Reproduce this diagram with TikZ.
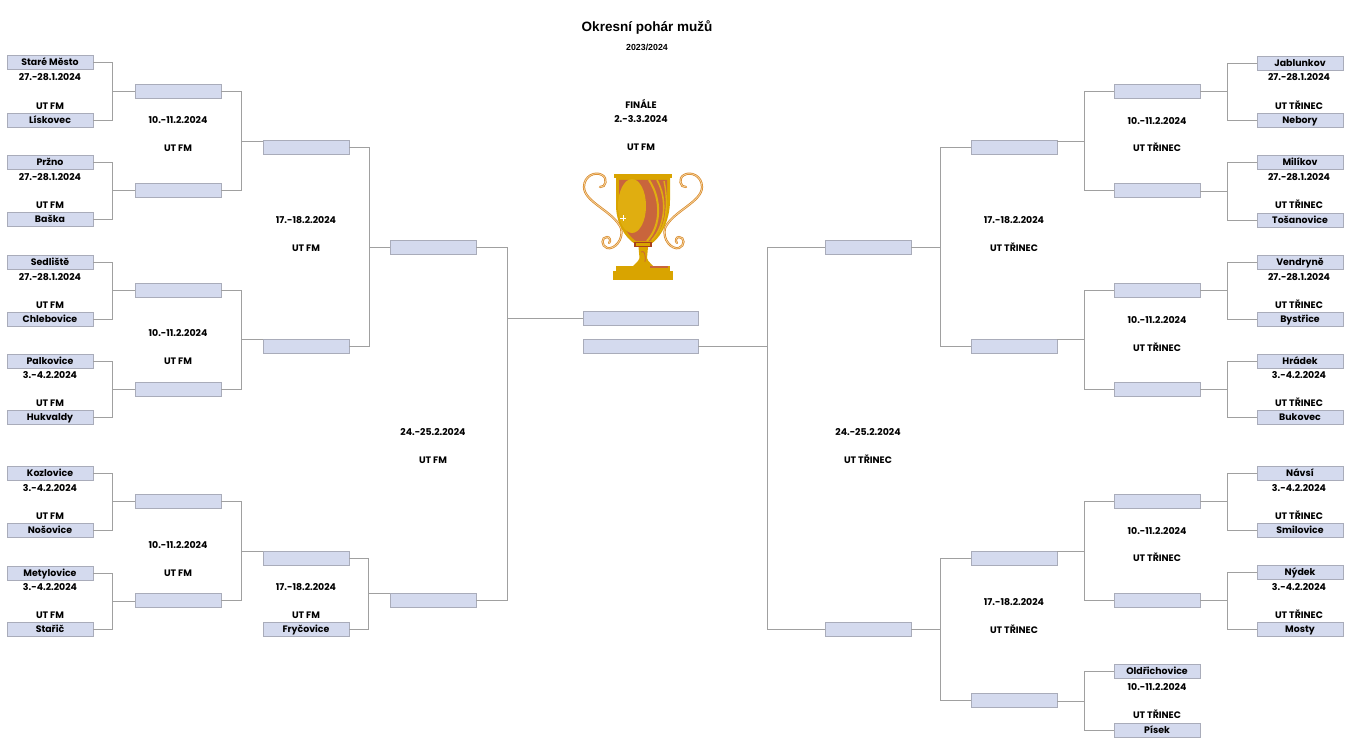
\documentclass[tikz,border=0pt]{standalone}
\usepackage{fontspec}
\setmainfont{Poppins}
\newfontfamily\titlefont{Liberation Sans}
\usetikzlibrary{calc}
\definecolor{boxfill}{HTML}{D4DAEE}
\definecolor{boxline}{HTML}{A9ACBA}
\definecolor{conncol}{HTML}{A0A0A0}
\definecolor{gold}{HTML}{D9A400}
\definecolor{goldl}{HTML}{E0AE10}
\definecolor{cupor}{HTML}{C9653C}
\definecolor{cupdk}{HTML}{A8401C}
\definecolor{handl}{HTML}{D98A2B}
\definecolor{handli}{HTML}{F6D9A8}
\tikzset{
  team/.style={rectangle, fill=boxfill, draw=boxline, line width=0.8pt,
    minimum width=86pt, minimum height=14pt, inner sep=0pt,
    text height=6.6pt, text depth=0.4pt,
    font=\bfseries\fontsize{9.4}{10}\selectfont},
  finbox/.style={team, minimum width=115pt},
  lbl/.style={inner sep=0pt, text height=6.6pt, text depth=0.4pt,
    font=\bfseries\fontsize{9.4}{10}\selectfont},
  conn/.style={draw=conncol, line width=0.8pt},
  handle/.style={draw=handl, line width=2.2pt, line cap=round},
  handlein/.style={draw=handli, line width=0.7pt, line cap=round}
}
\newcommand\brkL[4]{%
  \draw[conn] (#1.east) -- ++(#3,0) |- (#2.east);
  \coordinate (m) at ($(#1.east)!0.5!(#2.east)+(#3,0)$);
  \draw[conn] (m) -- (m -| #4.west);}
\newcommand\brkR[4]{%
  \draw[conn] (#1.west) -- ++(-#3,0) |- (#2.west);
  \coordinate (m) at ($(#1.west)!0.5!(#2.west)+(-#3,0)$);
  \draw[conn] (m) -- (m -| #4.east);}
\newcommand\cuphandle{%
  \foreach \s in {handle,handlein}{%
    \draw[\s] (600,187) .. controls (606,188) and (608,178) .. (602,175)
      .. controls (595,171) and (584,176) .. (584,187)
      .. controls (584,202) and (613,211) .. (621,228)
      .. controls (624,240) and (614,250) .. (607,248)
      .. controls (601,246) and (601,237) .. (607,237)
      .. controls (610,237) and (611,241) .. (609,243);
  }}
\begin{document}
\begin{tikzpicture}[x=1pt,y=-1pt]
\useasboundingbox (0,0) rectangle (1351,754);
% title
\node[inner sep=0pt, font=\titlefont\bfseries\fontsize{13.5}{15}\selectfont] (title) at (647,27) {Okresní pohár mužů};
\node[inner sep=0pt, font=\titlefont\bfseries\fontsize{8.8}{9}\selectfont] (season) at (647,47) {2023/2024};
% ---------- left teams
\node[team] (tL1) at (50,62.5) {Staré Město};
\node[team] (tL2) at (50,120) {Lískovec};
\node[team] (tL3) at (50,162) {Pržno};
\node[team] (tL4) at (50,219.5) {Baška};
\node[team] (tL5) at (50,262) {Sedliště};
\node[team] (tL6) at (50,319) {Chlebovice};
\node[team] (tL7) at (50,361.5) {Palkovice};
\node[team] (tL8) at (50,417) {Hukvaldy};
\node[team] (tL9) at (50,473) {Kozlovice};
\node[team] (tL10) at (50,530) {Nošovice};
\node[team] (tL11) at (50,573) {Metylovice};
\node[team] (tL12) at (50,629) {Stařič};
\node[lbl] (dL1) at (50,77) {27.-28.1.2024};
\node[lbl] (uL1) at (50,106) {UT FM};
\node[lbl] (dL2) at (50,177) {27.-28.1.2024};
\node[lbl] (uL2) at (50,205) {UT FM};
\node[lbl] (dL3) at (50,277) {27.-28.1.2024};
\node[lbl] (uL3) at (50,305) {UT FM};
\node[lbl] (dL4) at (50,375) {3.-4.2.2024};
\node[lbl] (uL4) at (50,403) {UT FM};
\node[lbl] (dL5) at (50,488) {3.-4.2.2024};
\node[lbl] (uL5) at (50,516) {UT FM};
\node[lbl] (dL6) at (50,587) {3.-4.2.2024};
\node[lbl] (uL6) at (50,615) {UT FM};
% left round 2
\node[team] (r2L1) at (178,91.5) {};
\node[team] (r2L2) at (178,190.5) {};
\node[team] (r2L3) at (178,290) {};
\node[team] (r2L4) at (178,389) {};
\node[team] (r2L5) at (178,501.5) {};
\node[team] (r2L6) at (178,600.5) {};
\node[lbl] (d2L1) at (178,120) {10.-11.2.2024};
\node[lbl] (u2L1) at (178,148) {UT FM};
\node[lbl] (d2L2) at (178,333) {10.-11.2.2024};
\node[lbl] (u2L2) at (178,361) {UT FM};
\node[lbl] (d2L3) at (178,545) {10.-11.2.2024};
\node[lbl] (u2L3) at (178,573) {UT FM};
% left round 3
\node[team] (r3L1) at (306,147.5) {};
\node[team] (r3L2) at (306,346.5) {};
\node[team] (r3L3) at (306,558) {};
\node[team] (tL13) at (306,629) {Fryčovice};
\node[lbl] (d3L1) at (306,220) {17.-18.2.2024};
\node[lbl] (u3L1) at (306,248) {UT FM};
\node[lbl] (d3L2) at (306,587) {17.-18.2.2024};
\node[lbl] (u3L2) at (306,615) {UT FM};
% left round 4
\node[team] (r4L1) at (433,247.5) {};
\node[team] (r4L2) at (433,600.5) {};
\node[lbl] (d4L) at (433,432) {24.-25.2.2024};
\node[lbl] (u4L) at (433,460) {UT FM};
% final
\node[finbox] (fin1) at (640.5,318.5) {};
\node[finbox] (fin2) at (640.5,346.5) {};
\node[lbl] (finl) at (641,105) {FINÁLE};
\node[lbl] (find) at (641,119) {2.-3.3.2024};
\node[lbl] (finu) at (641,147) {UT FM};
% ---------- right teams
\node[team] (tR1) at (1300,63) {Jablunkov};
\node[team] (tR2) at (1300,120) {Nebory};
\node[team] (tR3) at (1300,162) {Milíkov};
\node[team] (tR4) at (1300,220) {Tošanovice};
\node[team] (tR5) at (1300,262) {Vendryně};
\node[team] (tR6) at (1300,319) {Bystřice};
\node[team] (tR7) at (1300,361) {Hrádek};
\node[team] (tR8) at (1300,417) {Bukovec};
\node[team] (tR9) at (1300,473) {Návsí};
\node[team] (tR10) at (1300,530) {Smilovice};
\node[team] (tR11) at (1300,572) {Nýdek};
\node[team] (tR12) at (1300,629.5) {Mosty};
\node[lbl] (dR1) at (1299,77) {27.-28.1.2024};
\node[lbl] (uR1) at (1299,106) {UT TŘINEC};
\node[lbl] (dR2) at (1299,177) {27.-28.1.2024};
\node[lbl] (uR2) at (1299,205) {UT TŘINEC};
\node[lbl] (dR3) at (1299,277) {27.-28.1.2024};
\node[lbl] (uR3) at (1299,305) {UT TŘINEC};
\node[lbl] (dR4) at (1299,375) {3.-4.2.2024};
\node[lbl] (uR4) at (1299,403) {UT TŘINEC};
\node[lbl] (dR5) at (1299,488) {3.-4.2.2024};
\node[lbl] (uR5) at (1299,516) {UT TŘINEC};
\node[lbl] (dR6) at (1299,587) {3.-4.2.2024};
\node[lbl] (uR6) at (1299,615) {UT TŘINEC};
% right round 2
\node[team] (r2R1) at (1157,91.5) {};
\node[team] (r2R2) at (1157,190.5) {};
\node[team] (r2R3) at (1157,290) {};
\node[team] (r2R4) at (1157,389) {};
\node[team] (r2R5) at (1157,501.5) {};
\node[team] (r2R6) at (1157,600.5) {};
\node[team] (tR13) at (1157,671.5) {Oldřichovice};
\node[team] (tR14) at (1157,730.5) {Písek};
\node[lbl] (d2R1) at (1157,121) {10.-11.2.2024};
\node[lbl] (u2R1) at (1157,148) {UT TŘINEC};
\node[lbl] (d2R2) at (1157,320) {10.-11.2.2024};
\node[lbl] (u2R2) at (1157,348) {UT TŘINEC};
\node[lbl] (d2R3) at (1157,531) {10.-11.2.2024};
\node[lbl] (u2R3) at (1157,558) {UT TŘINEC};
\node[lbl] (d2R4) at (1157,687) {10.-11.2.2024};
\node[lbl] (u2R4) at (1157,715) {UT TŘINEC};
% right round 3
\node[team] (r3R1) at (1014,147.5) {};
\node[team] (r3R2) at (1014,346.5) {};
\node[team] (r3R3) at (1014,558.5) {};
\node[team] (r3R4) at (1014,700) {};
\node[lbl] (d3R1) at (1014,220) {17.-18.2.2024};
\node[lbl] (u3R1) at (1014,248) {UT TŘINEC};
\node[lbl] (d3R2) at (1014,602) {17.-18.2.2024};
\node[lbl] (u3R2) at (1014,630) {UT TŘINEC};
% right round 4
\node[team] (r4R1) at (868,247.5) {};
\node[team] (r4R2) at (868,629) {};
\node[lbl] (d4R) at (868,432) {24.-25.2.2024};
\node[lbl] (u4R) at (868,460) {UT TŘINEC};
% ---------- connectors left
\brkL{tL1}{tL2}{19}{r2L1}
\brkL{tL3}{tL4}{19}{r2L2}
\brkL{tL5}{tL6}{19}{r2L3}
\brkL{tL7}{tL8}{19}{r2L4}
\brkL{tL9}{tL10}{19}{r2L5}
\brkL{tL11}{tL12}{19}{r2L6}
\brkL{r2L1}{r2L2}{20}{r3L1}
\brkL{r2L3}{r2L4}{20}{r3L2}
\brkL{r2L5}{r2L6}{20}{r3L3}
\brkL{r3L1}{r3L2}{20}{r4L1}
\brkL{r3L3}{tL13}{19}{r4L2}
\draw[conn] (r4L1.east) -- ++(31,0) |- (r4L2.east);
\draw[conn] (fin1.west) -- ++(-76,0);
% ---------- connectors right
\brkR{tR1}{tR2}{29}{r2R1}
\brkR{tR3}{tR4}{29}{r2R2}
\brkR{tR5}{tR6}{29}{r2R3}
\brkR{tR7}{tR8}{29}{r2R4}
\brkR{tR9}{tR10}{29}{r2R5}
\brkR{tR11}{tR12}{29}{r2R6}
\brkR{r2R1}{r2R2}{29}{r3R1}
\brkR{r2R3}{r2R4}{29}{r3R2}
\brkR{r2R5}{r2R6}{29}{r3R3}
\brkR{tR13}{tR14}{29}{r3R4}
\brkR{r3R1}{r3R2}{30}{r4R1}
\brkR{r3R3}{r3R4}{30}{r4R2}
\draw[conn] (r4R1.west) -- ++(-57,0) |- (r4R2.west);
\draw[conn] (fin2.east) -- ++(70,0);
% ---------- trophy
\cuphandle
\begin{scope}[shift={(1286,0)},xscale=-1]
\cuphandle
\end{scope}
% cup bowl
\fill[gold] (616,177) -- (670,177) -- (670,200) .. controls (670,222) and (660,238) .. (651,244)
  -- (635,244) .. controls (624,237) and (616,222) .. (616,205) -- cycle;
\fill[cupor] (619,180) -- (667,180) -- (667,200) .. controls (667,220) and (658,236) .. (650,241)
  -- (636,241) .. controls (626,234) and (619,220) .. (619,205) -- cycle;
\draw[goldl, line width=2pt] (649,180) .. controls (662,200) and (661,226) .. (647,241);
\draw[goldl, line width=1.6pt] (657,180) .. controls (668,200) and (665,226) .. (652,240);
\draw[goldl, line width=1.4pt] (664,181) .. controls (668,200) and (667,220) .. (660,232);
\fill[goldl] (632,206) ellipse [x radius=14, y radius=27];
\draw[white, line width=0.5pt] (620,218) -- (626,218) (623,215) -- (623,221);
% rim
\fill[gold] (614,174) rectangle (672,178);
% collar and stem
\fill[cupdk] (634,242) rectangle (652,247);
\fill[gold] (636,243) rectangle (650,246);
\fill[gold] (638.5,247) -- (648,247) -- (647,258) .. controls (648,262) and (651,263) .. (653,266)
  -- (633,266) .. controls (636,263) and (638,262) .. (639.5,258) -- cycle;
\draw[cupor, line width=0.8pt] (641,252) .. controls (644,250) and (646,254) .. (645,262);
% base
\fill[gold] (616,266) rectangle (670,271);
\fill[cupor] (650,266) rectangle (668,268);
\fill[gold] (613,271) rectangle (673,280);
\end{tikzpicture}
\end{document}
